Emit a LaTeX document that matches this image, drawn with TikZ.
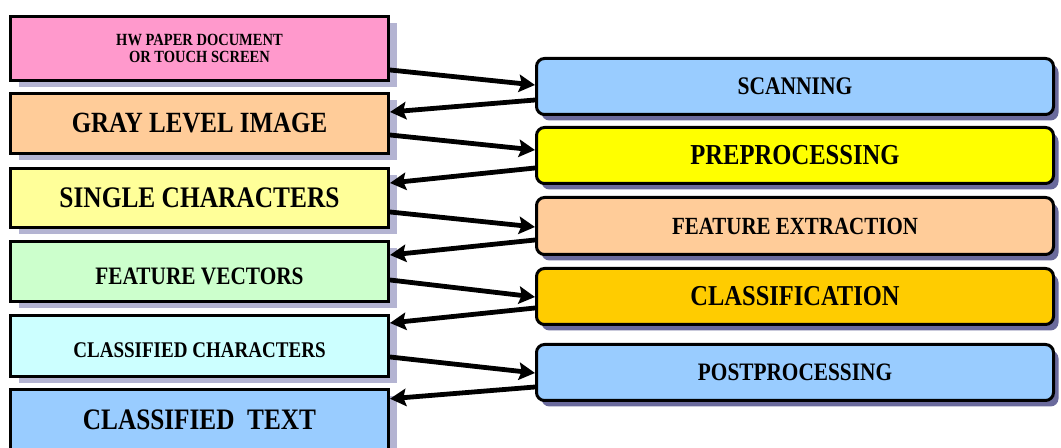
\documentclass[tikz,border=0pt]{standalone}
\usepackage{fontspec}
\newfontfamily\nf[FakeStretch=0.85]{Liberation Serif}
\usetikzlibrary{arrows.meta,shadows,calc}
\definecolor{cpink}{HTML}{FF99CC}
\definecolor{corange}{HTML}{FFCC99}
\definecolor{cyellowl}{HTML}{FFFF99}
\definecolor{cgreen}{HTML}{CCFFCC}
\definecolor{ccyan}{HTML}{CCFFFF}
\definecolor{cblue}{HTML}{99CCFF}
\definecolor{cyellow}{HTML}{FFFF00}
\definecolor{cgold}{HTML}{FFCC00}
\definecolor{lshad}{HTML}{B4B4D2}
\definecolor{rshad}{HTML}{6A6A9C}
\newcommand\txs[1]{\nf\bfseries\fontsize{#1pt}{#1pt}\selectfont}
\newcommand\dropby[2]{\raisebox{-#1}[\height][\depth]{#2}}
\begin{document}
\begin{tikzpicture}[x=0.75pt,y=-0.75pt,
  lbox/.style={draw=black, line width=2.25pt, minimum width=283.5pt, inner sep=0pt,
    general shadow={shadow xshift=6pt, shadow yshift=-5.25pt, fill=lshad}},
  rbox/.style={draw=black, line width=2.25pt, rounded corners=6pt, minimum width=387.75pt,
    minimum height=42pt, inner sep=0pt,
    general shadow={shadow xshift=3.75pt, shadow yshift=-4.5pt, fill=rshad}},
  conn/.style={line width=3.6pt, -{Stealth[length=12pt,width=13pt,inset=2pt]}}]
\useasboundingbox (0,0) rectangle (1061,448);
\clip (0,0) rectangle (1061,448);
% left column
\node[lbox, fill=cpink, minimum height=48pt, align=center,
  font={\nf\bfseries\fontsize{12.8pt}{13.1pt}\selectfont}] (l1) at (199.5,48.5)
  {HW PAPER DOCUMENT\\OR TOUCH SCREEN};
\node[lbox, fill=corange, minimum height=45pt, font=\txs{22}] (l2) at (199.5,123.5) {GRAY LEVEL IMAGE};
\node[lbox, fill=cyellowl, minimum height=44.25pt, font=\txs{22.4}] (l3) at (199.5,198) {SINGLE CHARACTERS};
\node[lbox, fill=cgreen, minimum height=45pt, font=\txs{18.8}] (l4) at (199.5,271.5) {\dropby{3.75pt}{FEATURE VECTORS}};
\node[lbox, fill=ccyan, minimum height=45.75pt, font=\txs{16.8}] (l5) at (199.5,346) {\dropby{3pt}{CLASSIFIED CHARACTERS}};
\node[lbox, fill=cblue, minimum height=51.4pt, font=\txs{22.3}] (l6) at (199.5,423.75) {\dropby{-2.8pt}{CLASSIFIED\ \ TEXT}};
% right column
\node[rbox, fill=cblue, font=\txs{19}] (r1) at (795,86.5) {SCANNING};
\node[rbox, fill=cyellow, font=\txs{21.7}] (r2) at (795,155.5) {PREPROCESSING};
\node[rbox, fill=corange, minimum height=42.75pt, font=\txs{18.5}] (r3) at (795,226) {FEATURE EXTRACTION};
\node[rbox, fill=cgold, font=\txs{21.6}] (r4) at (795,296.5) {CLASSIFICATION};
\node[rbox, fill=cblue, font=\txs{18.8}] (r5) at (795,372.5) {POSTPROCESSING};
% connectors
\draw[conn] ($(l1.east)+(0,21.5)$) -- ($(r1.west)+(0,-1.5)$);
\draw[conn] ($(r1.west)+(0,13.5)$) -- ($(l2.east)+(0,-11.5)$);
\draw[conn] ($(l2.east)+(0,11.5)$) -- ($(r2.west)+(0,-5.5)$);
\draw[conn] ($(r2.west)+(0,12.5)$) -- ($(l3.east)+(0,-15)$);
\draw[conn] ($(l3.east)+(0,14)$) -- ($(r3.west)+(0,1)$);
\draw[conn] ($(r3.west)+(0,14)$) -- ($(l4.east)+(0,-16.5)$);
\draw[conn] ($(l4.east)+(0,8.5)$) -- ($(r4.west)+(0,0.5)$);
\draw[conn] ($(r4.west)+(0,11.5)$) -- ($(l5.east)+(0,-23)$);
\draw[conn] ($(l5.east)+(0,11)$) -- ($(r5.west)+(0,0.5)$);
\draw[conn] ($(r5.west)+(0,14.5)$) -- ($(l6.east)+(0,-25)$);
\end{tikzpicture}
\end{document}
